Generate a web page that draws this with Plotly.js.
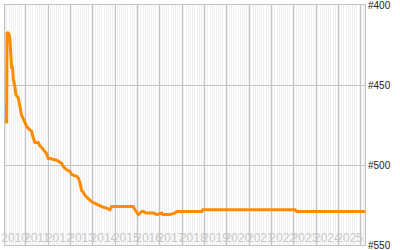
<!DOCTYPE html>
<html>
<head>
<meta charset="utf-8">
<script src="https://cdn.plot.ly/plotly-3.0.1.min.js"></script>
<style>html,body{margin:0;padding:0;background:#fff;}#chart{width:400px;height:250px;}</style>
</head>
<body>
<div id="chart"></div>
<script>
var dates = ["2010-01-27","2010-02-05","2010-02-13","2010-02-24","2010-03-01","2010-04-01","2010-04-17","2010-05-03","2010-05-15","2010-06-01","2010-06-10","2010-07-08","2010-07-24","2010-09-01","2010-09-28","2010-10-26","2010-11-21","2010-12-19","2011-01-17","2011-03-10","2011-04-07","2011-05-03","2011-06-01","2011-07-24","2011-08-21","2011-09-18","2011-11-11","2011-12-09","2012-01-05","2012-02-02","2012-05-20","2012-07-13","2012-08-11","2012-09-06","2012-11-01","2012-12-25","2013-01-22","2013-04-12","2013-05-08","2013-06-06","2013-06-17","2013-07-03","2013-07-29","2013-08-26","2013-10-19","2013-12-14","2014-02-07","2014-04-01","2014-05-26","2014-08-16","2014-10-09","2014-11-07","2014-12-31","2015-10-25","2015-11-22","2015-12-20","2016-01-16","2016-02-13","2016-03-10","2016-04-06","2016-05-20","2016-09-17","2016-11-12","2017-02-03","2017-02-19","2017-05-19","2017-06-17","2017-09-08","2017-10-05","2018-11-18","2018-12-04","2023-01-22","2023-02-19","2026-03-10"];
var ranks = [462,467,474,474,417,418,421,431,439,439,446,451,456,458,464,469,471,473,476,478,479,483,486,486,488,489,492,493,496,496,497,498,499,501,503,504,506,507,508,511,514,516,517,519,521,523,524,525,526,527,528,526,526,526,528,530,531,530,529,529,530,530,531,530,531,531,531,530,529,529,528,528,529,529];
var yTicks = [400, 450, 500, 550];
var yTickText = ["#400", "#450", "#500", "#550"];

var trace = {
  x: dates, y: ranks, type: "scatter", mode: "lines",
  line: {color: "#ff8c00", width: 3},
  hoverinfo: "skip"
};
var layout = {
  width: 400, height: 250,
  margin: {l: 5, r: 35, t: 5, b: 5},
  paper_bgcolor: "#ffffff",
  plot_bgcolor: "#f0f0f0",
  showlegend: false,
  xaxis: {
    type: "date",
    range: ["2010-01-27", "2026-03-10"],
    dtick: "M12", tick0: "2010-01-01",
    tickformat: "%Y",
    tickangle: 0,
    ticklabelmode: "period",
    ticklabelposition: "inside",
    ticklabeloverflow: "allow",
    ticks: "",
    showgrid: true, gridcolor: "#c4c4c4", gridwidth: 1,
    minor: {dtick: "M1", showgrid: true, gridcolor: "#ffffff", gridwidth: 1, ticks: ""},
    showline: true, linecolor: "#c4c4c4", linewidth: 1, mirror: true,
    zeroline: false,
    tickfont: {family: "Arial, Liberation Sans, sans-serif", size: 12, color: "#c8c8c8"},
    fixedrange: true
  },
  yaxis: {
    range: [550, 400],
    side: "right",
    tickmode: "array", tickvals: yTicks, ticktext: yTickText,
    ticks: "",
    ticklabeloverflow: "allow",
    showgrid: true, gridcolor: "#c4c4c4", gridwidth: 1,
    showline: true, linecolor: "#c4c4c4", linewidth: 1, mirror: true,
    zeroline: false,
    tickfont: {family: "Arial, Liberation Sans, sans-serif", size: 10, color: "#222222"},
    fixedrange: true
  }
};
Plotly.newPlot("chart", [trace], layout, {staticPlot: true, displayModeBar: false});
</script>
</body>
</html>
